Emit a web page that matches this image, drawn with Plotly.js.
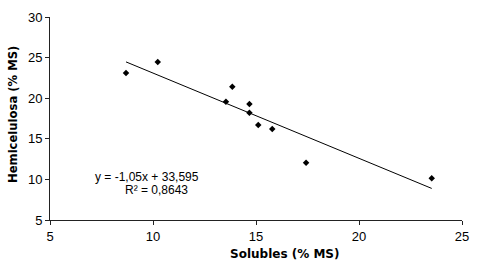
<!DOCTYPE html>
<html>
<head>
<meta charset="utf-8">
<script src="https://cdn.plot.ly/plotly-3.0.1.min.js"></script>
<style>html,body{margin:0;padding:0;background:#fff;}#chart{width:485px;height:274px;}</style>
</head>
<body>
<div id="chart"></div>
<script>
var solubles = [8.69, 10.23, 13.54, 13.85, 14.68, 14.68, 15.11, 15.79, 17.43, 23.53];
var hemicelulosa = [23.1, 24.46, 19.57, 21.42, 19.29, 18.22, 16.7, 16.21, 12.06, 10.13];
var slope = -1.05;
var intercept = 33.595;
var r2Text = "0,8643";
var xTicks = [5, 10, 15, 20, 25];
var yTicks = [5, 10, 15, 20, 25, 30];

var xMin = Math.min.apply(null, solubles);
var xMax = Math.max.apply(null, solubles);
var lineX = [xMin, xMax];
var lineY = lineX.map(function (x) { return slope * x + intercept; });

var font = "Liberation Sans, Arial, sans-serif";
var boldFont = "DejaVu Sans, Verdana, sans-serif";

var data = [
  {
    x: lineX, y: lineY, type: "scatter", mode: "lines",
    line: {color: "#000", width: 1}, hoverinfo: "skip", showlegend: false
  },
  {
    x: solubles, y: hemicelulosa, type: "scatter", mode: "markers",
    marker: {symbol: "diamond", size: 5, color: "#000"}, showlegend: false
  }
];

var pw = 485 - 50 - 23, ph = 274 - 17 - 54;
function px(xp) { return (xp - 50) / pw; }
function py(yp) { return (274 - 54 - yp) / ph; }

var layout = {
  width: 485, height: 274,
  margin: {l: 50, r: 23, t: 17, b: 54},
  paper_bgcolor: "#fff", plot_bgcolor: "#fff",
  showlegend: false,
  xaxis: {
    range: [5, 25], tickvals: xTicks, ticktext: xTicks.map(String),
    showgrid: false, zeroline: false, showline: true, linecolor: "#222", linewidth: 1,
    ticks: "outside", ticklen: 4, tickcolor: "#222",
    tickfont: {family: font, size: 13, color: "#000"}
  },
  yaxis: {
    range: [5, 30], tickvals: yTicks, ticktext: yTicks.map(String),
    showgrid: false, zeroline: false, showline: true, linecolor: "#222", linewidth: 1,
    ticks: "outside", ticklen: 4, tickcolor: "#222",
    tickfont: {family: font, size: 13, color: "#000"}
  },
  annotations: [
    {
      text: "y = -1,05x + 33,595", x: 9.73, y: 10.3, xref: "x", yref: "y",
      xanchor: "center", yanchor: "middle",
      showarrow: false, font: {family: font, size: 12, color: "#000"}
    },
    {
      text: "R² = " + r2Text, x: 10.15, y: 8.7, xref: "x", yref: "y",
      xanchor: "center", yanchor: "middle",
      showarrow: false, font: {family: font, size: 12, color: "#000"}
    },
    {
      text: "<b>Solubles (% MS)</b>", x: px(284.5), y: py(254), xref: "paper", yref: "paper",
      xanchor: "center", yanchor: "middle",
      showarrow: false, font: {family: boldFont, size: 12, color: "#000"}
    },
    {
      text: "<b>Hemicelulosa (% MS)</b>", x: px(13), y: py(115), xref: "paper", yref: "paper",
      xanchor: "center", yanchor: "middle",
      textangle: -90, showarrow: false, font: {family: boldFont, size: 11.6, color: "#000"}
    }
  ]
};

Plotly.newPlot("chart", data, layout, {displayModeBar: false, staticPlot: true});
</script>
</body>
</html>
